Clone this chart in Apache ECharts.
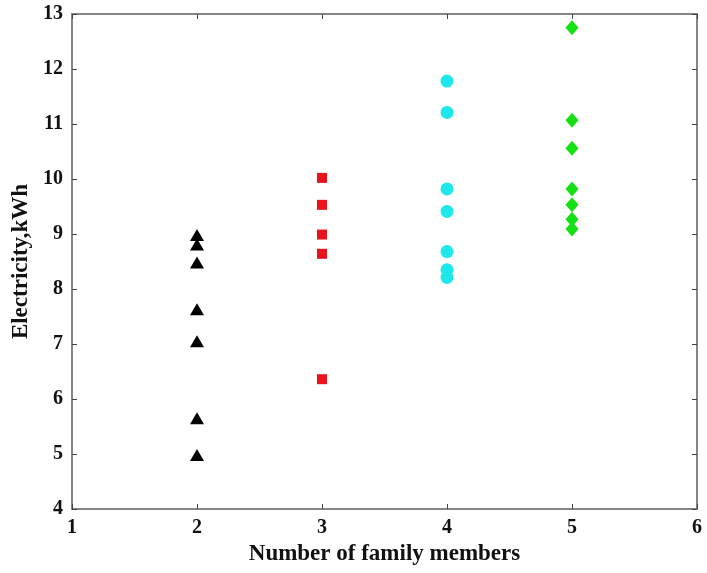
<!DOCTYPE html>
<html>
<head>
<meta charset="utf-8">
<script src="https://cdn.jsdelivr.net/npm/echarts@6/dist/echarts.min.js"></script>
<style>html,body{margin:0;padding:0;background:#fff}#c{width:707px;height:573px}</style>
</head>
<body>
<div id="c"></div>
<script>
const xTicks = [1, 2, 3, 4, 5, 6];
const yTicks = [4, 5, 6, 7, 8, 9, 10, 11, 12, 13];
const twoMembers = [8.98, 8.81, 8.48, 7.63, 7.05, 5.65, 4.98];
const threeMembers = [10.02, 9.53, 8.99, 8.64, 6.36];
const fourMembers = [11.78, 11.21, 9.82, 9.41, 8.68, 8.35, 8.21];
const fiveMembers = [12.75, 11.07, 10.56, 9.82, 9.53, 9.27, 9.09];

const font = '"Liberation Serif", "Times New Roman", serif';
const chart = echarts.init(document.getElementById('c'));
function pts(x, arr) { return arr.map(v => [x, v]); }
const lineStyle = { color: '#858585', width: 2 };
const labelStyle = { color: '#111', fontFamily: font, fontWeight: 'bold', fontSize: 20 };
const nameStyle = { color: '#111', fontFamily: font, fontWeight: 'bold', fontSize: 23 };
const tick = { show: true, inside: true, length: 5, lineStyle: { color: '#444', width: 1 } };
chart.setOption({
  animation: false,
  grid: { left: 72, right: 10, top: 14, bottom: 64 },
  xAxis: [{
    type: 'value', min: xTicks[0], max: xTicks[xTicks.length - 1], interval: 1,
    name: 'Number of family members', nameLocation: 'middle', nameGap: 32,
    nameTextStyle: nameStyle,
    axisLine: { show: true, lineStyle }, splitLine: { show: false },
    axisTick: tick,
    axisLabel: Object.assign({ margin: 9 }, labelStyle)
  }, {
    type: 'value', position: 'top', min: xTicks[0], max: xTicks[xTicks.length - 1], interval: 1,
    axisLine: { show: true, onZero: false, lineStyle }, splitLine: { show: false },
    axisTick: tick,
    axisLabel: { show: false }
  }],
  yAxis: [{
    type: 'value', min: yTicks[0], max: yTicks[yTicks.length - 1], interval: 1,
    name: 'Electricity,kWh', nameLocation: 'middle', nameGap: 38,
    nameTextStyle: nameStyle,
    axisLine: { show: true, lineStyle }, splitLine: { show: false },
    axisTick: tick,
    axisLabel: Object.assign({ margin: 9 }, labelStyle)
  }, {
    type: 'value', position: 'right', min: yTicks[0], max: yTicks[yTicks.length - 1], interval: 1,
    axisLine: { show: true, onZero: false, lineStyle }, splitLine: { show: false },
    axisTick: tick,
    axisLabel: { show: false }
  }],
  series: [
    { type: 'scatter', data: pts(2, twoMembers), symbol: 'triangle', symbolSize: [14, 12], itemStyle: { color: '#000', opacity: 1 } },
    { type: 'scatter', data: pts(3, threeMembers), symbol: 'rect', symbolSize: 10, itemStyle: { color: '#e8141c', opacity: 1 } },
    { type: 'scatter', data: pts(4, fourMembers), symbol: 'circle', symbolSize: 13, itemStyle: { color: '#1fe8ec', opacity: 1 } },
    { type: 'scatter', data: pts(5, fiveMembers), symbol: 'diamond', symbolSize: [13, 15], itemStyle: { color: '#14e014', opacity: 1 } }
  ]
});
</script>
</body>
</html>
